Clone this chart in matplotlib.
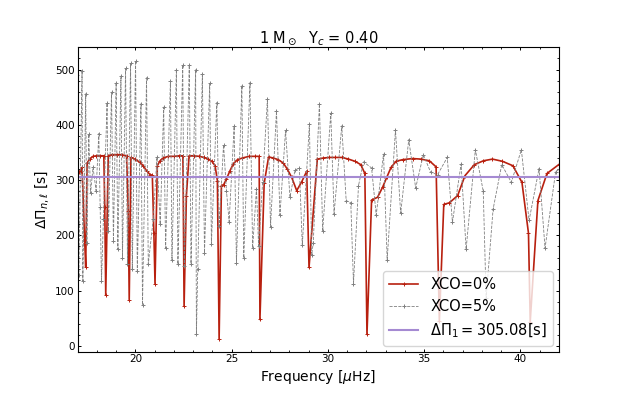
import matplotlib
matplotlib.use("Agg")
import matplotlib.pyplot as plt
from matplotlib.ticker import MultipleLocator

# XCO = 0% series: frequency [muHz], period spacing [s]
freq_0 = [16.85, 16.95, 17.06, 17.16, 17.23, 17.37, 17.42, 17.49, 17.63, 17.80,
          17.98, 18.17, 18.36, 18.41, 18.46, 18.59, 18.76, 19.02, 19.28, 19.54,
          19.63, 19.68, 19.77, 19.98, 20.24, 20.41, 20.58, 20.76, 20.88, 20.96,
          21.02, 21.14, 21.28, 21.45, 21.71, 22.00, 22.27, 22.47, 22.53, 22.65,
          22.79, 23.05, 23.31, 23.57, 23.79, 23.97, 24.14, 24.26, 24.35, 24.47,
          24.59, 24.73, 24.90, 25.08, 25.30, 25.56, 25.91, 26.22, 26.43, 26.47,
          26.69, 26.92, 27.16, 27.42, 27.68, 27.89, 28.12, 28.38, 28.64, 28.90,
          29.02, 29.45, 29.77, 30.08, 30.37, 30.72, 31.07, 31.41, 31.71, 31.92,
          32.03, 32.27, 32.58, 32.84, 33.07, 33.28, 33.54, 33.88, 34.40, 34.84,
          35.27, 35.62, 35.79, 36.02, 36.31, 36.74, 37.12, 37.61, 38.08, 38.55,
          39.07, 39.61, 40.08, 40.42, 40.51, 40.91, 41.38, 41.99]
dp_0 = [326, 318, 314, 317, 323, 187, 143, 331, 338, 343,
        344, 344, 344, 252, 92, 344, 346, 346, 346, 344,
        245, 84, 341, 338, 332, 326, 317, 310, 309, 205,
        113, 326, 335, 340, 343, 343, 344, 344, 72, 272,
        344, 344, 343, 341, 338, 334, 326, 299, 13, 290,
        292, 302, 316, 329, 337, 340, 343, 343, 343, 48,
        294, 342, 340, 337, 331, 320, 305, 281, 297, 316,
        142, 338, 340, 341, 341, 341, 338, 334, 328, 312,
        21, 264, 269, 287, 306, 323, 334, 337, 339, 338,
        335, 324, 45, 256, 259, 272, 308, 328, 335, 338,
        334, 326, 296, 204, 44, 263, 312, 328]

# XCO = 5% series
freq_5 = [16.95, 17.06, 17.23, 17.27, 17.42, 17.48, 17.58, 17.67, 17.80, 17.96,
          18.10, 18.17, 18.24, 18.34, 18.53, 18.60, 18.76, 18.86, 19.00, 19.09,
          19.25, 19.33, 19.49, 19.59, 19.75, 19.84, 20.01, 20.10, 20.29, 20.37,
          20.58, 20.67, 20.93, 21.12, 21.29, 21.47, 21.57, 21.82, 21.90, 22.13,
          22.21, 22.46, 22.54, 22.80, 22.89, 23.13, 23.17, 23.24, 23.48, 23.59,
          23.86, 23.95, 24.23, 24.35, 24.58, 24.73, 24.87, 25.13, 25.25, 25.53,
          25.63, 25.95, 26.09, 26.29, 26.40, 26.61, 26.86, 27.02, 27.33, 27.51,
          27.80, 28.03, 28.29, 28.52, 28.67, 29.04, 29.16, 29.24, 29.56, 29.73,
          30.15, 30.32, 30.72, 30.95, 31.19, 31.33, 31.59, 31.85, 32.27, 32.51,
          32.89, 33.08, 33.51, 33.78, 34.20, 34.56, 34.96, 35.34, 35.70, 36.20,
          36.47, 36.92, 37.18, 37.66, 38.07, 38.22, 38.58, 39.03, 39.53, 40.05,
          40.45, 40.97, 41.28, 41.83, 42.02]
dp_5 = [490, 128, 498, 118, 456, 187, 383, 276, 323, 281,
        384, 252, 118, 230, 439, 208, 459, 190, 476, 175,
        488, 160, 502, 149, 511, 139, 516, 136, 438, 74,
        485, 148, 230, 341, 220, 432, 177, 479, 156, 500,
        148, 508, 145, 508, 149, 500, 21, 139, 491, 169,
        475, 185, 440, 217, 364, 281, 225, 397, 151, 471,
        159, 476, 177, 284, 181, 296, 447, 216, 425, 237,
        390, 269, 318, 322, 182, 401, 165, 187, 438, 208,
        421, 239, 398, 263, 259, 113, 290, 333, 322, 237,
        347, 156, 391, 240, 373, 286, 346, 314, 310, 341,
        224, 329, 175, 355, 280, 86, 247, 328, 296, 355,
        227, 321, 177, 315, 320]

delta_pi_1 = 305.08

fig, ax = plt.subplots(figsize=(6.21, 3.95), dpi=100)

ax.plot(freq_0, dp_0, color='#b8200f', lw=1.2, marker='+', ms=3, mew=0.7,
        label='XCO=0%')
ax.plot(freq_5, dp_5, color='gray', lw=0.6, ls='--', marker='+', ms=3.5, mew=0.7,
        label='XCO=5%')
ax.axhline(delta_pi_1, color='#a58ad2', lw=1.5,
           label=r'$\Delta\Pi_1 = 305.08$[s]')

ax.set_xlim(17, 42)
ax.set_ylim(-10, 540)
ax.xaxis.set_major_locator(MultipleLocator(5))
ax.xaxis.set_minor_locator(MultipleLocator(1))
ax.yaxis.set_major_locator(MultipleLocator(100))
ax.yaxis.set_minor_locator(MultipleLocator(20))
ax.tick_params(which='both', direction='in', top=True, right=True,
               labelsize=7.5, pad=2)
ax.tick_params(which='major', length=2.5, width=0.7)
ax.tick_params(which='minor', length=1.5, width=0.6)
for s in ax.spines.values():
    s.set_linewidth(0.8)

ax.set_xlabel(r'Frequency [$\mu$Hz]', fontsize=10, labelpad=3)
ax.set_ylabel(r'$\Delta\Pi_{n,\ell}$ [s]', fontsize=10, labelpad=3)
ax.set_title(r'1 M$_\odot$  Y$_c$ = 0.40', fontsize=10.5, pad=4)
ax.legend(loc='lower right', fontsize=10.5, borderaxespad=0.4)

fig.savefig('out.png', dpi=100)
